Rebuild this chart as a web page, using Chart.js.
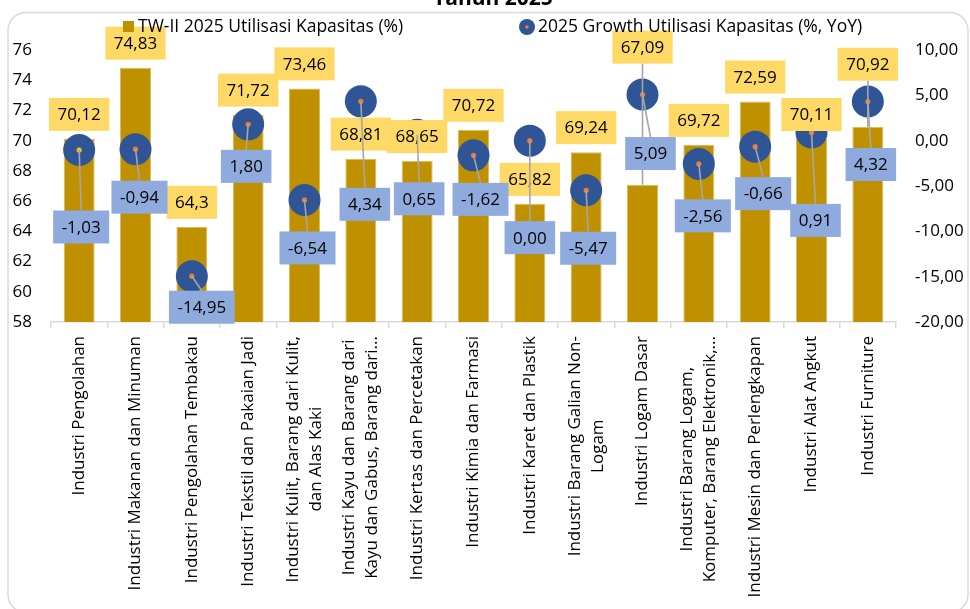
<!DOCTYPE html>
<html>
<head>
<meta charset="utf-8">
<script src="https://cdn.jsdelivr.net/npm/chart.js@4.4.1/dist/chart.umd.min.js"></script>
<style>
  html, body { margin: 0; padding: 0; background: #fff; }
  canvas { display: block; }
</style>
</head>
<body>
<canvas id="chart" width="970" height="609"></canvas>
<script>
// Data kategori (baris label sumbu X sesuai tampilan)
const categories = [
    ['Industri Pengolahan'],
    ['Industri Makanan dan Minuman'],
    ['Industri Pengolahan Tembakau'],
    ['Industri Tekstil dan Pakaian Jadi'],
    ['Industri Kulit, Barang dari Kulit,', 'dan Alas Kaki'],
    ['Industri Kayu dan Barang dari', 'Kayu dan Gabus, Barang dari...'],
    ['Industri Kertas dan Percetakan'],
    ['Industri Kimia dan Farmasi'],
    ['Industri Karet dan Plastik'],
    ['Industri Barang Galian Non-', 'Logam'],
    ['Industri Logam Dasar'],
    ['Industri Barang Logam,', 'Komputer, Barang Elektronik,...'],
    ['Industri Mesin dan Perlengkapan'],
    ['Industri Alat Angkut'],
    ['Industri Furniture']
];

const seriesNames = ['TW-II 2025 Utilisasi Kapasitas (%)', '2025 Growth Utilisasi Kapasitas (%, YoY)'];
const chartTitle = 'Tahun 2025';

// Utilisasi kapasitas TW-II 2025 (%)
const utilisasi = [70.12, 74.83, 64.3, 71.72, 73.46, 68.81, 68.65, 70.72, 65.82, 69.24, 67.09, 69.72, 72.59, 70.11, 70.92];

// Pertumbuhan utilisasi (%, YoY)
const growth = [-1.03, -0.94, -14.95, 1.80, -6.54, 4.34, 0.65, -1.62, 0.00, -5.47, 5.09, -2.56, -0.66, 0.91, 4.32];

// Sumbu
const leftTicks = { min: 58, max: 76, step: 2 };
const rightTicks = { min: -20, max: 10, step: 5 };

// Penempatan label (geser relatif terhadap posisi standar, piksel)
const barLabelLift = [0, 0, 0, 0, 0, 0, 0, 0, 0, 0, -113, 0, 0, 0, -38];
const growthLabelShift = [
    [2, 77], [4, 48], [10, 31], [-2, 42], [3, 48], [4, 103], [2, 64], [7, 44],
    [0, 97], [2, 58], [8, 59], [4, 52], [8, 47], [4, 88], [3, 63]
];

const FONT_FAMILY = "'Open Sans', 'Noto Sans', sans-serif";
const TEXT = '#000000';
const GOLD = '#BF9000';
const YELLOW = '#FFD966';
const BLUE_BOX = '#8FAADC';
const NAVY = '#2F5597';
const ORANGE = '#ED7D31';
const LEADER = '#A6A6A6';

Chart.defaults.font.family = FONT_FAMILY;
Chart.defaults.color = TEXT;

const fmtComma = v => String(v).replace('.', ',');
const fmt2 = v => v.toFixed(2).replace('.', ',');

// Kartu latar dengan sudut membulat
const cardPlugin = {
    id: 'card',
    beforeDraw(chart) {
        const ctx = chart.ctx;
        ctx.save();
        ctx.fillStyle = '#ffffff';
        ctx.fillRect(0, 0, chart.width, chart.height);
        ctx.beginPath();
        ctx.roundRect(8, 12.5, 960, 600, 18);
        ctx.strokeStyle = '#D9D9D9';
        ctx.lineWidth = 1.5;
        ctx.stroke();
        // judul (terpotong di atas)
        ctx.font = 'bold 21px ' + FONT_FAMILY;
        ctx.fillStyle = TEXT;
        ctx.textAlign = 'center';
        ctx.textBaseline = 'alphabetic';
        ctx.fillText(chartTitle, 493, 5);
        ctx.restore();
    }
};

// Legenda manual
const legendPlugin = {
    id: 'customLegend',
    afterDraw(chart) {
        const ctx = chart.ctx;
        ctx.save();
        ctx.font = '17.5px ' + FONT_FAMILY;
        ctx.textBaseline = 'middle';
        ctx.textAlign = 'left';
        const y = 27;
        ctx.fillStyle = GOLD;
        ctx.fillRect(123, 21, 11, 11);
        ctx.fillStyle = TEXT;
        ctx.fillText(seriesNames[0], 138, y);
        ctx.beginPath();
        ctx.arc(527, y, 8, 0, Math.PI * 2);
        ctx.fillStyle = NAVY;
        ctx.fill();
        ctx.beginPath();
        ctx.arc(527, y, 1.8, 0, Math.PI * 2);
        ctx.fillStyle = ORANGE;
        ctx.fill();
        ctx.fillStyle = TEXT;
        ctx.fillText(seriesNames[1], 538, y);
        ctx.restore();
    }
};

// Label data (kotak kuning dan biru) + garis penunjuk
const labelPlugin = {
    id: 'dataLabels',
    afterDatasetsDraw(chart) {
        const ctx = chart.ctx;
        const bars = chart.getDatasetMeta(0).data;
        const pts = chart.getDatasetMeta(1).data;
        const padX = 8.5, boxH = 33;
        ctx.save();
        ctx.font = '17px ' + FONT_FAMILY;
        ctx.textAlign = 'center';
        ctx.textBaseline = 'middle';

        // titik oranye di tengah lingkaran
        pts.forEach((p, i) => {
            ctx.beginPath();
            ctx.arc(p.x, p.y, 2.6, 0, Math.PI * 2);
            ctx.fillStyle = i === 0 ? '#FFC000' : ORANGE;
            ctx.fill();
        });

        // kotak kuning di atas batang
        const yellowBoxes = bars.map((b, i) => {
            const txt = fmtComma(utilisasi[i]);
            const w = ctx.measureText(txt).width + padX * 2;
            const bottom = b.y - 8 + barLabelLift[i];
            ctx.fillStyle = YELLOW;
            ctx.fillRect(b.x - w / 2, bottom - boxH, w, boxH);
            ctx.fillStyle = TEXT;
            ctx.fillText(txt, b.x, bottom - boxH / 2 + 1);
            return { x: b.x, bottom: bottom, barTop: b.y };
        });

        // garis penunjuk
        ctx.strokeStyle = LEADER;
        ctx.lineWidth = 1.6;
        yellowBoxes.forEach((yb, i) => {
            if (barLabelLift[i] !== 0) {
                ctx.beginPath();
                ctx.moveTo(yb.x, yb.bottom);
                ctx.lineTo(yb.x, yb.barTop);
                ctx.stroke();
            }
        });
        const blueBoxes = pts.map((p, i) => {
            const txt = fmt2(growth[i]);
            const w = ctx.measureText(txt).width + padX * 2;
            const cx = p.x + growthLabelShift[i][0];
            const cy = p.y + growthLabelShift[i][1];
            ctx.beginPath();
            ctx.moveTo(p.x, p.y);
            ctx.lineTo(cx, cy - boxH / 2);
            ctx.stroke();
            return { txt, w, cx, cy };
        });

        // kotak biru
        blueBoxes.forEach(bb => {
            ctx.fillStyle = BLUE_BOX;
            ctx.fillRect(bb.cx - bb.w / 2, bb.cy - boxH / 2, bb.w, boxH);
            ctx.fillStyle = TEXT;
            ctx.fillText(bb.txt, bb.cx, bb.cy + 1);
        });
        ctx.restore();
    }
};

// Label sumbu X diputar 90 derajat, baris rata tengah
const xLabelPlugin = {
    id: 'xLabels',
    afterDraw(chart) {
        const ctx = chart.ctx;
        const xScale = chart.scales.x;
        const top = chart.chartArea.bottom + 14;
        const lineH = 23;
        ctx.save();
        ctx.font = '17px ' + FONT_FAMILY;
        ctx.fillStyle = TEXT;
        ctx.textAlign = 'center';
        ctx.textBaseline = 'middle';
        categories.forEach((lines, i) => {
            const x = xScale.getPixelForValue(i);
            const maxW = Math.max(...lines.map(l => ctx.measureText(l).width));
            ctx.save();
            ctx.translate(x, top);
            ctx.rotate(-Math.PI / 2);
            lines.forEach((l, j) => {
                const v = (j - (lines.length - 1) / 2) * lineH;
                ctx.fillText(l, -maxW / 2, v);
            });
            ctx.restore();
        });
        ctx.restore();
    }
};

new Chart(document.getElementById('chart'), {
    type: 'bar',
    data: {
        labels: categories.map(c => c.join(' ')),
        datasets: [
            {
                type: 'bar',
                label: seriesNames[0],
                data: utilisasi,
                yAxisID: 'y',
                backgroundColor: GOLD,
                borderColor: '#D8BC5E',
                borderWidth: 1,
                categoryPercentage: 1,
                barPercentage: 0.55,
                order: 2
            },
            {
                type: 'line',
                label: seriesNames[1],
                data: growth,
                yAxisID: 'y1',
                showLine: false,
                pointRadius: 16,
                pointHoverRadius: 16,
                pointBackgroundColor: NAVY,
                pointBorderWidth: 0,
                order: 1
            }
        ]
    },
    options: {
        responsive: false,
        animation: false,
        events: [],
        layout: { padding: { top: 50, left: 0, right: 0, bottom: 0 } },
        plugins: {
            legend: { display: false },
            tooltip: { enabled: false }
        },
        scales: {
            x: {
                ticks: { display: false },
                grid: { offset: true, drawOnChartArea: false, drawTicks: true, tickLength: 6, color: '#D9D9D9', lineWidth: 1.5 },
                border: { display: true, color: '#D9D9D9', width: 1.5 },
                afterFit: s => { s.height = 287; }
            },
            y: {
                position: 'left',
                min: leftTicks.min,
                max: leftTicks.max,
                ticks: { stepSize: leftTicks.step, padding: 19, font: { size: 17 }, color: TEXT },
                grid: { display: false, drawTicks: false },
                border: { display: false },
                afterFit: s => { s.width = 51; }
            },
            y1: {
                position: 'right',
                min: rightTicks.min,
                max: rightTicks.max,
                ticks: { stepSize: rightTicks.step, padding: 19, font: { size: 17 }, color: TEXT, callback: v => fmt2(v) },
                grid: { display: false, drawTicks: false },
                border: { display: false },
                afterFit: s => { s.width = 74; }
            }
        }
    },
    plugins: [cardPlugin, labelPlugin, xLabelPlugin, legendPlugin]
});
</script>
</body>
</html>
